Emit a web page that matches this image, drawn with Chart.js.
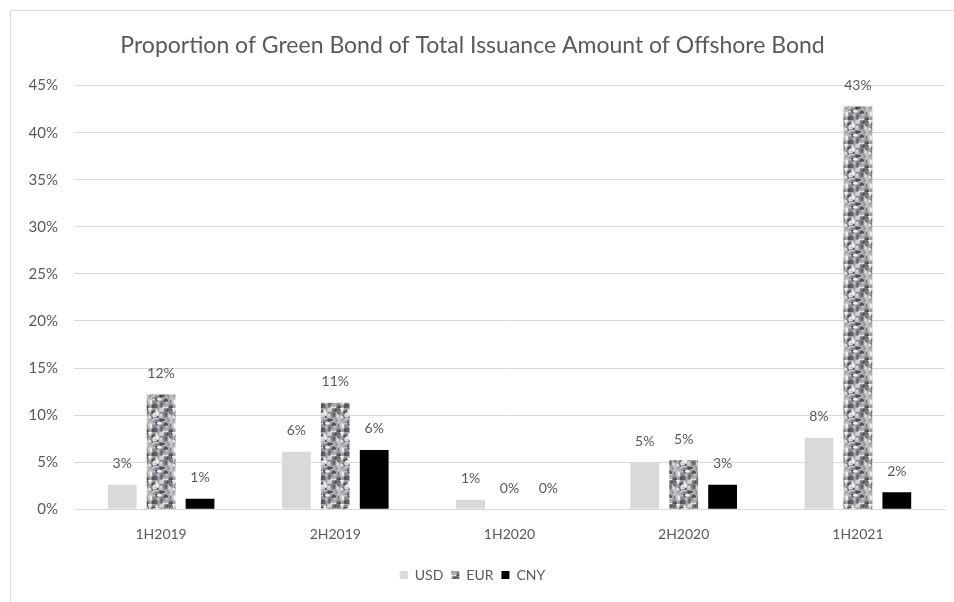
<!DOCTYPE html>
<html>
<head>
<meta charset="utf-8">
<script src="https://cdn.jsdelivr.net/npm/chart.js@4.4.1/dist/chart.umd.min.js"></script>
<style>
  html, body { margin: 0; padding: 0; background: #fff; overflow: hidden; }
  #frame { position: absolute; left: 10px; top: 10px; width: 960px; height: 620px; border: 1px solid #d9d9d9; box-sizing: border-box; }
  #wrap { position: absolute; left: 0; top: 0; width: 954px; height: 602px; }
</style>
</head>
<body>
<div id="frame"></div>
<div id="wrap"><canvas id="chart"></canvas></div>
<script>
// Green bond share of offshore bond issuance, by half-year and currency (%).
const PERIODS = ["1H2019", "2H2019", "1H2020", "2H2020", "1H2021"];
const USD = [2.6, 6.1, 1.0, 5.0, 7.6];
const EUR = [12.2, 11.3, 0, 5.2, 42.8];
const CNY = [1.1, 6.3, 0, 2.6, 1.8];
const Y_TICKS_MAX = 45;
const Y_TICKS_STEP = 5;

const TEXT = "#595959";
const FONT = "Lato, 'Open Sans', sans-serif";

// Grey speckled fill for the EUR bars (deterministic, so every render is the same).
function speckle() {
  const c = document.createElement("canvas");
  c.width = 24; c.height = 24;
  const g = c.getContext("2d");
  g.fillStyle = "#a4a4a8";
  g.fillRect(0, 0, 24, 24);
  let s = 11;
  const next = () => { s = (s * 16807) % 2147483647; return s / 2147483647; };
  const tones = ["#55555a", "#6e6e72", "#d4d4d8", "#ececee", "#88888c", "#bcbcc0", "#4a4a4e"];
  for (let i = 0; i < 110; i++) {
    g.fillStyle = tones[Math.floor(next() * tones.length)];
    const x = next() * 24, y = next() * 24, r = 0.6 + next() * 1.2;
    g.beginPath();
    g.ellipse(x, y, r * 1.5, r, next() * Math.PI, 0, Math.PI * 2);
    g.fill();
  }
  return g.createPattern(c, "repeat");
}

// Value labels above each bar.
const barLabels = {
  id: "barLabels",
  afterDatasetsDraw(chart) {
    const ctx = chart.ctx;
    ctx.save();
    ctx.font = `14px ${FONT}`;
    ctx.fillStyle = TEXT;
    ctx.textAlign = "center";
    ctx.textBaseline = "middle";
    chart.data.datasets.forEach((ds, i) => {
      chart.getDatasetMeta(i).data.forEach((bar, j) => {
        ctx.fillText(`${Math.round(ds.data[j])}%`, bar.x, bar.y - 21);
      });
    });
    ctx.restore();
  },
};

const fill = speckle();

new Chart(document.getElementById("chart"), {
  type: "bar",
  data: {
    labels: PERIODS,
    datasets: [
      { label: "USD", data: USD, backgroundColor: "#d9d9d9" },
      { label: "EUR", data: EUR, backgroundColor: fill },
      { label: "CNY", data: CNY, backgroundColor: "#000000" },
    ],
  },
  options: {
    responsive: true,
    maintainAspectRatio: false,
    animation: false,
    categoryPercentage: 0.67,
    barPercentage: 0.74,
    layout: { padding: { top: 0, right: 9, bottom: 10, left: 0 } },
    plugins: {
      title: {
        display: true,
        text: "Proportion of Green Bond of Total Issuance Amount of Offshore Bond",
        color: TEXT,
        font: { family: FONT, size: 23, weight: "normal" },
        padding: { top: 32, bottom: 26 },
      },
      legend: {
        position: "bottom",
        labels: {
          color: TEXT,
          font: { family: FONT, size: 14 },
          boxWidth: 8,
          boxHeight: 8,
          padding: 8,
        },
      },
      tooltip: { enabled: false },
    },
    scales: {
      x: {
        grid: { display: false, drawTicks: false },
        border: { color: "#d9d9d9" },
        ticks: { color: TEXT, font: { family: FONT, size: 14 }, padding: 17 },
      },
      y: {
        min: 0,
        max: Y_TICKS_MAX,
        afterFit: (scale) => { scale.width = 74; },
        grid: { color: "#d9d9d9", drawTicks: false },
        border: { display: false },
        ticks: {
          stepSize: Y_TICKS_STEP,
          color: TEXT,
          font: { family: FONT, size: 15 },
          padding: 16,
          callback: (v) => `${v}%`,
        },
      },
    },
  },
  plugins: [barLabels],
});
</script>
</body>
</html>
